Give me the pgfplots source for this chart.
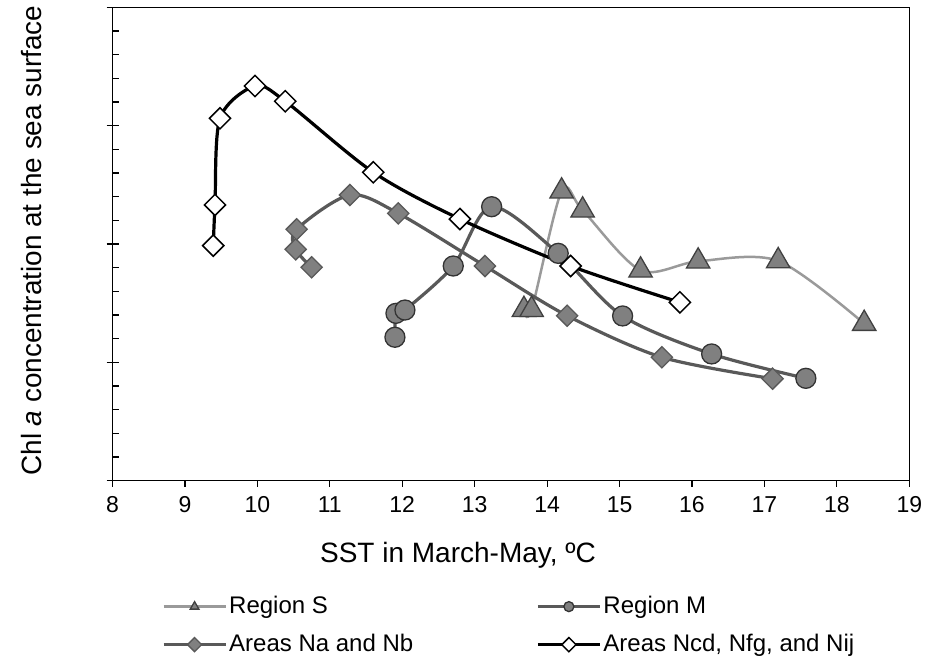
\documentclass[border=0pt]{standalone}
\usepackage{fontspec}
\setmainfont{Liberation Sans}
\usepackage{pgfplots}
\pgfplotsset{compat=1.18}
\definecolor{lgray}{HTML}{9A9A9A}
\definecolor{mgray}{HTML}{808080}
\definecolor{dgray}{HTML}{595959}
\definecolor{edge}{HTML}{404040}
\begin{document}
\begin{tikzpicture}[x=1pt,y=1pt]
\path[use as bounding box] (0,0) rectangle (936,660);
\begin{axis}[
  at={(112.5pt,179.3pt)}, anchor=south west,
  scale only axis, width=796.8pt, height=473.4pt,
  xmin=8, xmax=19, ymin=0, ymax=4,
  xtick={8,9,...,19}, ytick={0,1,2,3,4}, yticklabels={},
  minor ytick={0,0.2,...,4.01},
  tick pos=left, tick align=outside,
  major tick length=6pt, minor tick length=6pt,
  tick style={black, line width=1.2pt},
  minor y tick style={xshift=6pt},
  axis line style={line width=1.2pt},
  /pgf/number format/assume math mode=true,
  xticklabel style={font=\fontsize{23}{27}\selectfont, yshift=-6pt},
  xlabel={SST in March-May, ºC},
  xlabel style={at={(axis description cs:0.4336,0)}, anchor=base, yshift=-82.3pt, font=\fontsize{28}{33}\selectfont},
  ylabel={Chl \textit{a} concentration at the sea surface},
  ylabel style={at={(axis description cs:-0.0885,0.507)}, anchor=base, font=\fontsize{27.9}{33}\selectfont},
  legend columns=2,
  legend cell align=left,
  legend style={draw=none, fill=none, at={(axis description cs:0.0621,-0.2375)}, anchor=north west,
    font=\fontsize{24}{28}\selectfont, inner sep=0pt, outer sep=0pt, row sep=11pt,
    nodes={inner sep=2pt, text height=18pt, text depth=5pt},
    /tikz/every even column/.append style={column sep=121pt}},
  legend image code/.code={
    \draw[#1, mark size=5pt, mark repeat=2, mark phase=2] plot coordinates {(0pt,0pt) (31pt,0pt) (62pt,0pt)};
  },
]
\addplot[lgray, line width=2.5pt, smooth, mark=triangle*, mark size=13.5pt,
  mark options={fill=mgray, draw=edge, line width=1.3pt}]
  coordinates {(13.680,1.445) (13.786,1.445) (14.200,2.446) (14.490,2.285) (15.290,1.778) (16.085,1.854) (17.190,1.857) (18.377,1.327)};
\addlegendentry{Region S}
\addplot[dgray, line width=3.2pt, smooth, mark=*, mark size=10pt,
  mark options={fill=mgray, draw=black!80, line width=1.3pt}]
  coordinates {(11.899,1.212) (11.913,1.414) (12.037,1.442) (12.704,1.814) (13.234,2.315) (14.153,1.921) (15.042,1.392) (16.271,1.071) (17.572,0.865)};
\addlegendentry{Region M}
\addplot[dgray, line width=3.2pt, smooth, mark=square*, mark size=7.5pt,
  mark options={fill=mgray, draw=dgray, line width=1.3pt, rotate=45}]
  coordinates {(10.749,1.803) (10.529,1.955) (10.542,2.124) (11.278,2.414) (11.945,2.259) (13.142,1.814) (14.277,1.394) (15.585,1.043) (17.112,0.862)};
\addlegendentry{Areas Na and Nb}
\addplot[black, line width=3.2pt, smooth, mark=square*, mark size=7.5pt,
  mark options={fill=white, draw=black, line width=1.5pt, rotate=45}]
  coordinates {(9.391,1.986) (9.415,2.330) (9.484,3.062) (9.967,3.335) (10.385,3.206) (11.600,2.606) (12.796,2.211) (14.324,1.814) (15.833,1.507)};
\addlegendentry{Areas Ncd, Nfg, and Nij}
\end{axis}
\end{tikzpicture}
\end{document}
